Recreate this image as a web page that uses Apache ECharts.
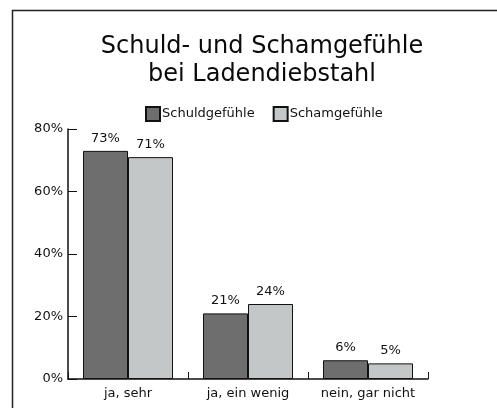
<!DOCTYPE html>
<html>
<head>
<meta charset="utf-8">
<script src="https://cdn.jsdelivr.net/npm/echarts@6/dist/echarts.min.js"></script>
<style>
  html, body { margin: 0; padding: 0; background: #fff; }
  #chart { width: 497px; height: 408px; }
</style>
</head>
<body>
<div id="chart"></div>
<script>
const categories = ['ja, sehr', 'ja, ein wenig', 'nein, gar nicht'];
const schuld = [73, 21, 6];
const scham = [71, 24, 5];
const yTicks = [0, 20, 40, 60, 80];

const font = '"DejaVu Sans", "Noto Sans", sans-serif';
const chart = echarts.init(document.getElementById('chart'));

chart.setOption({
  animation: false,
  textStyle: { fontFamily: font },
  title: {
    text: 'Schuld- und Schamgefühle\nbei Ladendiebstahl',
    left: 257,
    top: 28,
    textAlign: 'center',
    textStyle: { fontSize: 24, fontWeight: 'normal', color: '#0a0a0a', lineHeight: 28, fontFamily: font }
  },
  legend: {
    top: 101,
    left: 140,
    itemWidth: 14,
    itemHeight: 14,
    itemGap: 18,
    icon: 'rect',
    textStyle: { fontSize: 13, color: '#111', padding: [0, 0, 0, -3], fontFamily: font },
    data: ['Schuldgefühle', 'Schamgefühle']
  },
  graphic: [{
    type: 'rect',
    shape: { x: 12.5, y: 10.5, width: 500, height: 420 },
    style: { fill: 'none', stroke: '#222', lineWidth: 1.5 }
  }],
  grid: { left: 68, top: 129, width: 360, height: 250, containLabel: false },
  xAxis: {
    type: 'category',
    data: categories,
    axisLine: { lineStyle: { color: '#111', width: 1.5 } },
    axisTick: { show: true, inside: true, length: 7, lineStyle: { color: '#111' } },
    axisLabel: { interval: 0, fontSize: 13, color: '#111', margin: 8, fontFamily: font }
  },
  yAxis: {
    type: 'value',
    min: yTicks[0],
    max: yTicks[yTicks.length - 1],
    interval: 20,
    axisLine: { show: true, lineStyle: { color: '#111', width: 1.5 } },
    axisTick: { show: true, inside: true, length: 9, lineStyle: { color: '#111' } },
    splitLine: { show: false },
    axisLabel: { fontSize: 13, color: '#111', margin: 5, formatter: '{value}%', fontFamily: font }
  },
  series: [
    {
      name: 'Schuldgefühle',
      type: 'bar',
      data: schuld,
      barGap: '0%',
      barCategoryGap: '25%',
      itemStyle: { color: '#6e6e6e', borderColor: '#111', borderWidth: 1 },
      label: { show: true, position: 'top', distance: 6, fontSize: 13, color: '#111', formatter: '{c}%', fontFamily: font }
    },
    {
      name: 'Schamgefühle',
      type: 'bar',
      data: scham,
      itemStyle: { color: '#c4c7c8', borderColor: '#111', borderWidth: 1 },
      label: { show: true, position: 'top', distance: 6, fontSize: 13, color: '#111', formatter: '{c}%', fontFamily: font }
    }
  ]
});
</script>
</body>
</html>
